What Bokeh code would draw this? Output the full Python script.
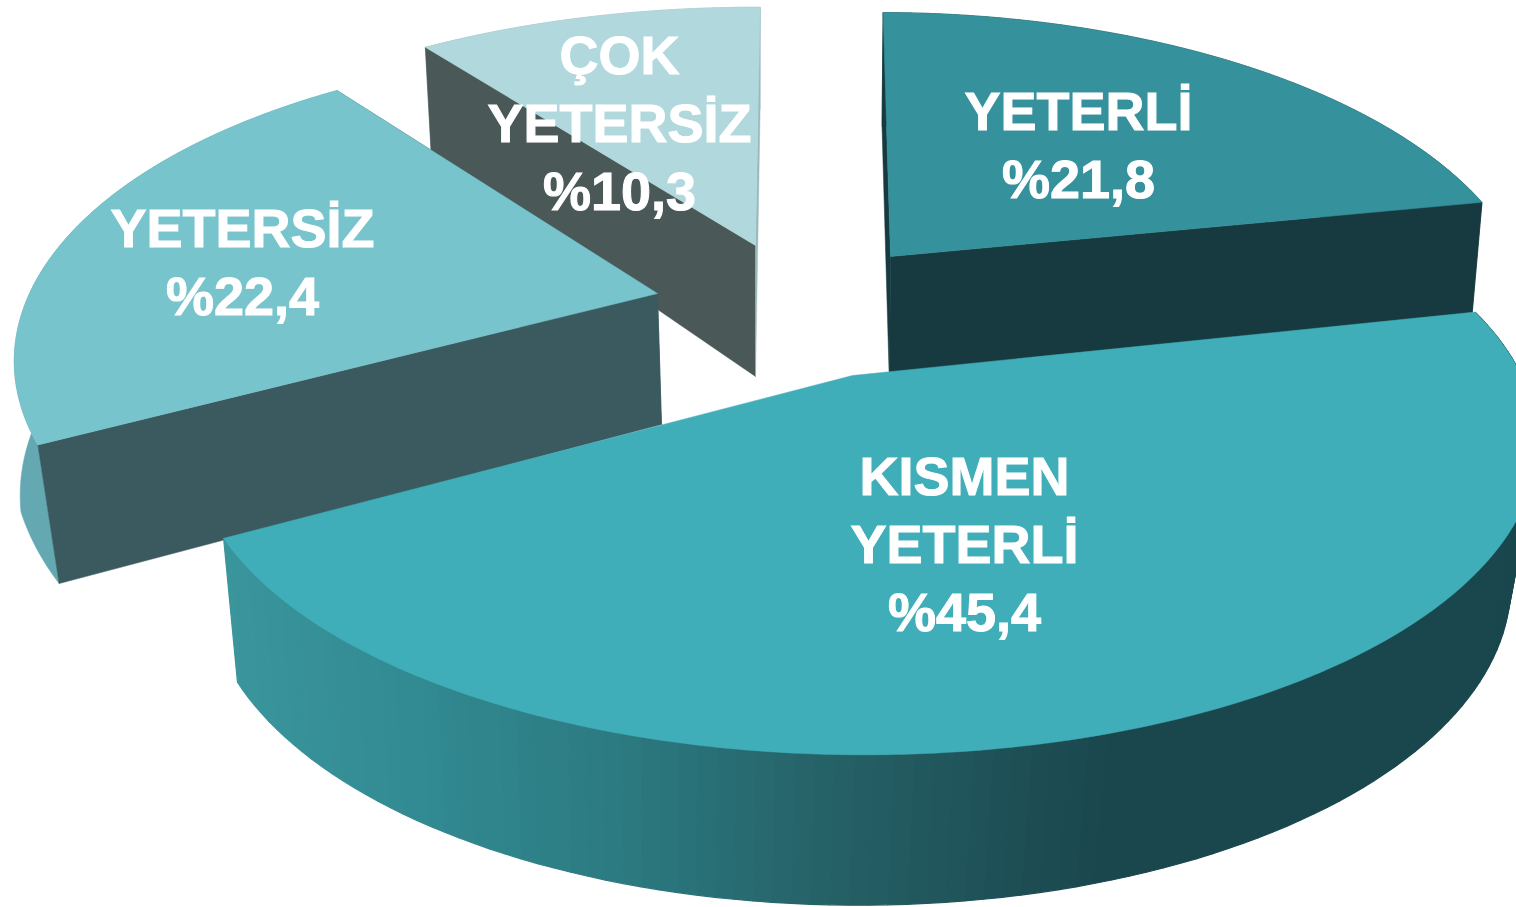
import numpy as np
from bokeh.plotting import figure
from bokeh.embed import file_html
from bokeh.resources import INLINE
from bokeh.core.properties import value

# ---- data (clockwise order) ----
categories = ["YETERLİ", "KISMEN YETERLİ", "YETERSİZ", "ÇOK YETERSİZ"]
values = [21.8, 45.4, 22.4, 10.3]

# ---- layout / styling ----
WIDTH, HEIGHT = 1516, 907
START_DEG = 91.5
K = 0.217
styles = {
    "YETERLİ": dict(apex=(890, 256), off=-12, A=640, B=297, rot=-2, shift=(-1, 131), sx=.983, sy=1.07, bulge=0,
                    top="#35929c", rim="#163a3f", cut_a="#163a3f", cut_b="#163a3f",
                    label=(1078, 110), lines=["YETERLİ"]),
    "KISMEN YETERLİ": dict(apex=(852, 375), off=12, A=657, B=297, rot=0, shift=(-6, 139), sx=.969, sy=1.03, bulge=0,
                           top="#40aeb8", rim=None, cut_a=None, cut_b=None,
                           label=(964, 475), lines=["KISMEN", "YETERLİ"]),
    "YETERSİZ": dict(apex=(657, 293), off=-3, A=625, B=297, rot=-2, shift=(4, 131), sx=.972, sy=1.05, bulge=16,
                     top="#78c4cd", rim="#64a9b2", cut_a="#3a5a5f", cut_b="#3a5a5f",
                     label=(242, 227), lines=["YETERSİZ"]),
    "ÇOK YETERSİZ": dict(apex=(755, 245), off=0, A=650, B=290, rot=-2, shift=(0, 131), sx=.982, sy=1.12, bulge=0,
                         top="#b1d8dd", rim="#9ab8bd", cut_a="#4a5858", cut_b="#9ab8bd",
                         label=(619, 54), lines=["ÇOK", "YETERSİZ"]),
}
rim_stops_x = [236, 420, 620, 800, 900, 1000, 1100, 1516]
rim_stops_rgb = [(58, 149, 156), (50, 138, 146), (44, 122, 129), (38, 100, 106),
                 (34, 90, 96), (30, 80, 86), (26, 71, 77), (25, 71, 77)]
DRAW_ORDER = ["ÇOK YETERSİZ", "YETERSİZ", "YETERLİ", "KISMEN YETERLİ"]

p = figure(width=WIDTH, height=HEIGHT, x_range=(0, WIDTH), y_range=(HEIGHT, 0),
           toolbar_location=None, output_backend="svg", min_border=0,
           outline_line_color=None, background_fill_color="white")
p.axis.visible = False
p.grid.visible = False


def ring(t, st, bottom=False):
    t = np.radians(t + st["rot"])
    s, c = np.sin(t), np.cos(t)
    d = 1 + K * s
    ax, ay = st["apex"]
    x0 = ax + st["off"]
    sx, sy, dx, dy = 1, 1, 0, 0
    if bottom:
        sx, sy = st["sx"], st["sy"]
        dx, dy = st["shift"]
    return x0 + dx + sx * st["A"] * c / d, ay + dy - sy * st["B"] * s / d


total = sum(values)
angles = {}
a = START_DEG
for name, v in zip(categories, values):
    angles[name] = (a, a - v / total * 360.0)
    a -= v / total * 360.0

for name in DRAW_ORDER:
    st = styles[name]
    t0, t1 = angles[name]
    ax, ay = st["apex"]
    dx, dy = st["shift"]
    ts = np.linspace(t0, t1, 241)
    xt, yt = ring(ts, st)
    xb, yb = ring(ts, st, True)
    # outer rim
    if st["rim"] is not None:
        xr = xb - st["bulge"] * np.clip(np.abs(ts - t0) / 12.0, 0, 1)
        p.patch(np.r_[xt, xr[::-1]], np.r_[yt, yb[::-1]], fill_color=st["rim"], line_color=st["rim"], line_width=.5)
    else:
        xs, ys, cols = [], [], []
        step = 2
        for i in range(0, len(ts) - step, step):
            xs.append([xt[i], xt[i + step], xb[i + step], xb[i]])
            ys.append([yt[i], yt[i + step], yb[i + step], yb[i]])
            mx = (xb[i] + xb[i + step]) / 2
            rgb = [np.interp(mx, rim_stops_x, [c[j] for c in rim_stops_rgb]) for j in range(3)]
            cols.append("#%02x%02x%02x" % tuple(int(round(v_)) for v_ in rgb))
        p.patches(xs, ys, fill_color=cols, line_color=cols, line_width=1.2)
    # cut faces at the two ends of the sweep
    for idx, colour in ((0, st["cut_a"]), (-1, st["cut_b"])):
        if colour is None:
            continue
        p.patch([ax, xt[idx], xb[idx], ax + dx], [ay, yt[idx], yb[idx], ay + dy],
                fill_color=colour, line_color=colour, line_width=.5)
    # top face
    p.patch(np.r_[ax, xt], np.r_[ay, yt], fill_color=st["top"], line_color=st["top"], line_width=.5)

# labels
PITCH = 68
for name, v in zip(categories, values):
    st = styles[name]
    lines = st["lines"] + ["%" + f"{v:.1f}".replace(".", ",")]
    lx, ly = st["label"]
    p.text([lx] * len(lines), [ly + i * PITCH for i in range(len(lines))], text=lines,
           text_color="white", text_font=value("Liberation Sans"), text_font_style="bold",
           text_font_size="54px", text_align="center", text_baseline="middle",
           outline_color="white")

open("out.html", "w").write(file_html(p, INLINE))
